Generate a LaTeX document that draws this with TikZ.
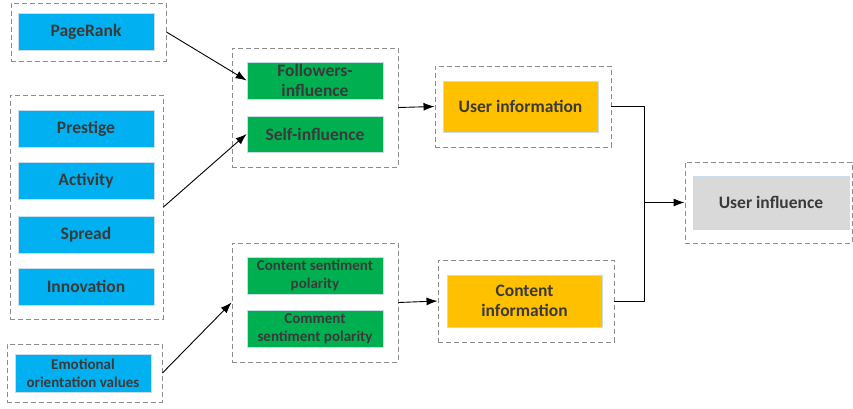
\documentclass[tikz,border=0pt]{standalone}
\usepackage{fontspec}
\setmainfont{Carlito}
\usetikzlibrary{arrows.meta}
\definecolor{cblue}{HTML}{00B0F0}
\definecolor{cgreen}{HTML}{00B050}
\definecolor{corange}{HTML}{FFC000}
\definecolor{cgray}{HTML}{D9D9D9}
\definecolor{ctext}{HTML}{3A3A3A}
\definecolor{cdash}{HTML}{8C8C8C}
\definecolor{cedge}{HTML}{C8DCEC}
\tikzset{
  box/.style={draw=cedge, line width=0.8pt, inner sep=1pt, align=center, text=ctext,
    font=\bfseries\fontsize{17.5}{20}\selectfont},
  small/.style={font=\bfseries\fontsize{15}{18}\selectfont},
  bluebox/.style={box, fill=cblue},
  greenbox/.style={box, fill=cgreen},
  orangebox/.style={box, fill=corange},
  graybox/.style={box, fill=cgray},
  group/.style={draw=cdash, line width=0.9pt, dash pattern=on 5pt off 3pt, inner sep=0pt},
  arr/.style={-{Latex[length=11pt,width=8pt]}, line width=0.9pt, black},
}
\begin{document}
\begin{tikzpicture}[x=1pt,y=-1pt]
\useasboundingbox (0,0) rectangle (853,408);
% outer dashed groups
\node[group, minimum width=155pt, minimum height=58pt] (gpr) at (88.5,32) {};
\node[group, minimum width=153pt, minimum height=224pt] (gattr) at (86.5,207) {};
\node[group, minimum width=155pt, minimum height=58pt] (gemo) at (84.5,373) {};
\node[group, minimum width=166pt, minimum height=119pt] (ginf) at (315,107.5) {};
\node[group, minimum width=166pt, minimum height=119pt] (gsent) at (315,302.5) {};
\node[group, minimum width=176pt, minimum height=81pt] (gui) at (523,106.5) {};
\node[group, minimum width=176pt, minimum height=82pt] (gci) at (526,301) {};
\node[group, minimum width=167pt, minimum height=81pt] (guinf) at (768.5,202.5) {};
% blue boxes
\node[bluebox, minimum width=136pt, minimum height=37pt] (pr) at (86,31.5) {PageRank};
\node[bluebox, minimum width=136pt, minimum height=37pt] (pre) at (86,128.5) {Prestige};
\node[bluebox, minimum width=136pt, minimum height=37pt] (act) at (86,181) {Activity};
\node[bluebox, minimum width=136pt, minimum height=37pt] (spr) at (86,234.5) {Spread};
\node[bluebox, minimum width=136pt, minimum height=37pt] (inn) at (86,286.5) {Innovation};
\node[bluebox, small, minimum width=136pt, minimum height=38pt] (emo) at (83,373) {Emotional\\orientation values};
% green boxes
\node[greenbox, minimum width=136pt, minimum height=37pt] (fol) at (315,80.5) {Followers-\\influence};
\node[greenbox, minimum width=136pt, minimum height=36pt] (self) at (315,134) {Self-influence};
\node[greenbox, small, minimum width=136pt, minimum height=37pt] (cs) at (315,275.5) {Content sentiment\\polarity};
\node[greenbox, small, minimum width=136pt, minimum height=37pt] (cms) at (315,328.5) {Comment\\sentiment polarity};
% orange and gray boxes
\node[orangebox, minimum width=155pt, minimum height=51pt] (ui) at (520.5,106.5) {User information};
\node[orangebox, minimum width=155pt, minimum height=52pt] (ci) at (524.5,301) {Content\\information};
\node[graybox, minimum width=156pt, minimum height=53pt] (uinf) at (771,202.5) {User influence};
% connectors
\draw[arr] (gpr.east) -- (fol.west);
\draw[arr] (gattr.east) -- (self.west);
\draw[arr] (gemo.east) -- (gsent.west);
\draw[arr] (ginf.east) -- (gui.west);
\draw[arr] (gsent.east) -- (gci.west);
\coordinate (j) at (644,202.5);
\draw[line width=0.9pt] (gui.east) -| (j) |- (gci.east);
\draw[arr] (j) -- (guinf.west);
\end{tikzpicture}
\end{document}
